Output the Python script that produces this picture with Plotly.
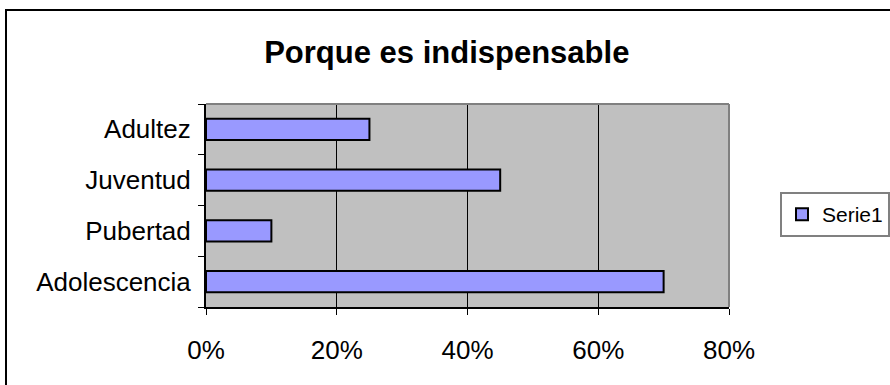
import plotly.graph_objects as go

# Age groups (bottom to top) and share of answers
categories = ["Adolescencia", "Pubertad", "Juventud", "Adultez"]
values = [0.70, 0.10, 0.45, 0.25]
series_name = "Serie1"
x_ticks = [0, 0.2, 0.4, 0.6, 0.8]
x_tick_labels = ["0%", "20%", "40%", "60%", "80%"]

FONT = "Arial, Liberation Sans, sans-serif"

fig = go.Figure()
fig.add_trace(go.Bar(
    y=categories,
    x=values,
    orientation="h",
    name=series_name,
    width=0.42,
    marker=dict(color="#9999FF", line=dict(color="#000000", width=2)),
    showlegend=True,
))

fig.update_layout(
    width=890,
    height=385,
    margin=dict(l=206, r=161, t=104, b=78, autoexpand=False),
    paper_bgcolor="#FFFFFF",
    plot_bgcolor="#C0C0C0",
    font=dict(family=FONT, size=26, color="#000000"),
    title=dict(
        text="<b>Porque es indispensable</b>",
        font=dict(family=FONT, size=31, color="#000000"),
        x=0.502, xref="container", xanchor="center",
        y=0.865, yref="container", yanchor="middle",
    ),
    xaxis=dict(
        range=[0, 0.8],
        tickvals=x_ticks,
        ticktext=x_tick_labels,
        ticks="outside",
        ticklen=6,
        tickwidth=1,
        tickcolor="#000000",
        showgrid=True,
        gridcolor="#000000",
        gridwidth=1,
        showline=True,
        linecolor="#000000",
        linewidth=2,
        zeroline=False,
        ticklabelstandoff=13,
        tickfont=dict(size=26),
    ),
    yaxis=dict(
        categoryorder="array",
        categoryarray=categories,
        ticks="outside",
        tickson="boundaries",
        ticklen=6,
        tickwidth=1,
        tickcolor="#000000",
        showgrid=False,
        showline=True,
        linecolor="#000000",
        linewidth=2,
        zeroline=False,
        ticklabelstandoff=8,
        tickfont=dict(size=26),
    ),
    legend=dict(
        x=780 / 890, xref="container", xanchor="left",
        y=1 - 192 / 385, yref="container", yanchor="top",
        bgcolor="#FFFFFF",
        bordercolor="#808080",
        borderwidth=2,
        font=dict(family=FONT, size=21, color="#000000"),
        itemsizing="constant",
    ),
    shapes=[
        # gray frame of the plotting area (top and right edges)
        dict(type="line", xref="paper", yref="paper", x0=0, x1=1, y0=1, y1=1,
             line=dict(color="#808080", width=2)),
        dict(type="line", xref="paper", yref="paper", x0=1, x1=1, y0=0, y1=1,
             line=dict(color="#808080", width=2)),
        # outer chart border
        dict(type="rect", xref="paper", yref="paper",
             x0=(6 - 206) / 523, x1=1.6, y0=-0.7, y1=(307 - 10) / 203,
             line=dict(color="#000000", width=2), fillcolor="rgba(0,0,0,0)",
             layer="above"),
    ],
)

fig.write_html("out.html")
